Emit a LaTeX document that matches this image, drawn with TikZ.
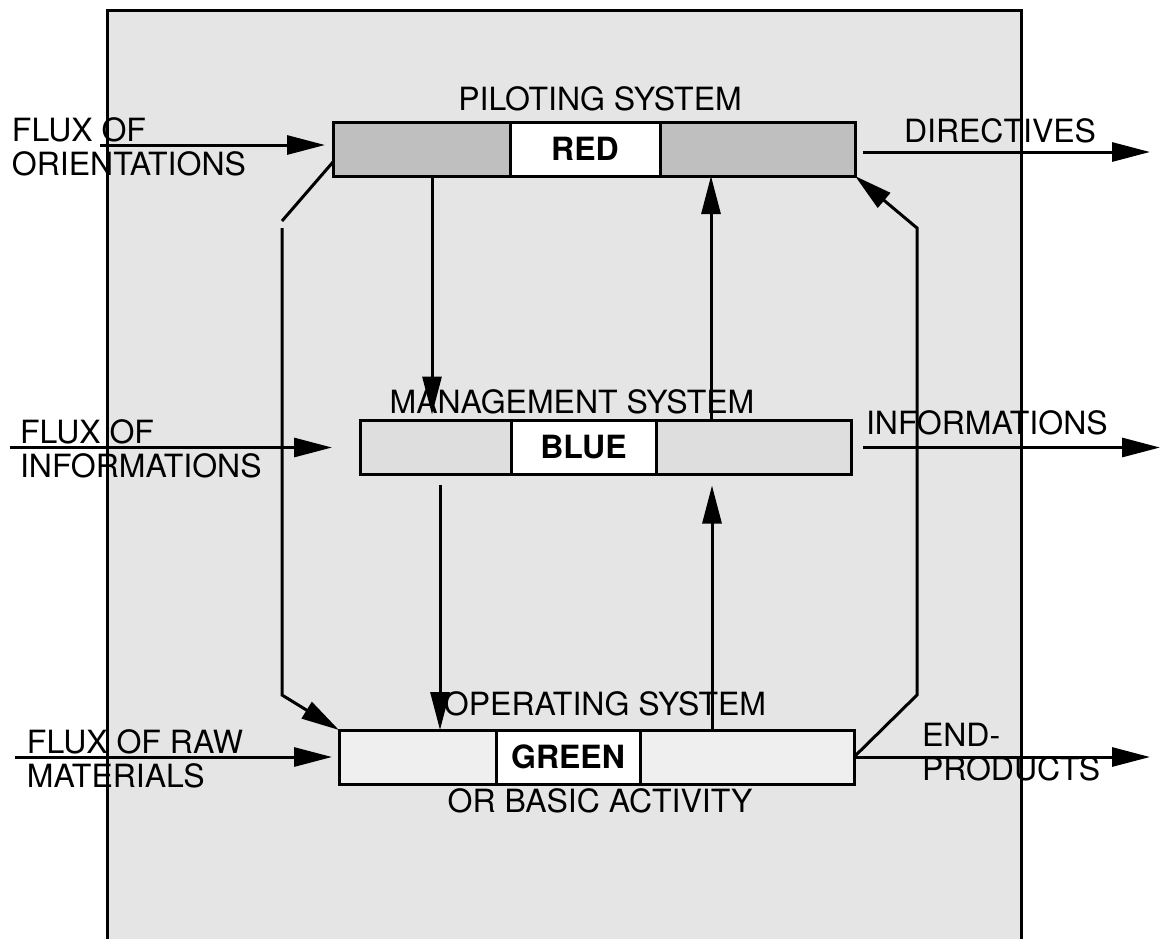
\documentclass[tikz,border=0pt]{standalone}
\usepackage{fontspec}
\setmainfont{TeX Gyre Heros}
\usetikzlibrary{arrows.meta}
\definecolor{backgray}{HTML}{E5E5E5}
\definecolor{pilotgray}{HTML}{BFBFBF}
\definecolor{mangray}{HTML}{DEDEDE}
\definecolor{opgray}{HTML}{EFEFEF}
\begin{document}
\begin{tikzpicture}[
    x=1pt, y=-1pt,
    every node/.style={font=\fontsize{32}{34}\selectfont, inner sep=0pt, outer sep=0pt},
    seg/.style={rectangle, draw, line width=3pt, minimum height=54pt},
    colour/.style={seg, fill=white, font=\fontsize{32}{34}\selectfont\bfseries},
    label/.style={align=left, anchor=base west},
    title/.style={anchor=base},
    flow/.style={line width=3pt, -{Triangle[length=38pt,width=19pt]}}
]
    \useasboundingbox (0,0) rectangle (1162,938);
    \fill[backgray] (107,10) rectangle (1021,950);
    \draw[line width=3pt] (107,950) -- (107,10) -- (1021,10) -- (1021,950);

    \node[seg, fill=pilotgray, minimum width=177pt] (pilotL) at (421.5,149) {};
    \node[colour, minimum width=150pt] (red) at (585,149) {RED};
    \node[seg, fill=pilotgray, minimum width=195pt] (pilotR) at (757.5,149) {};
    \node[seg, fill=mangray, minimum width=151pt] (manL) at (435.5,447.5) {};
    \node[colour, minimum width=145pt] (blue) at (583.5,447.5) {BLUE};
    \node[seg, fill=mangray, minimum width=195pt] (manR) at (753.5,447.5) {};
    \node[seg, fill=opgray, minimum width=157pt] (opL) at (417.5,757) {};
    \node[colour, minimum width=144pt] (green) at (568,757) {GREEN};
    \node[seg, fill=opgray, minimum width=214pt] (opR) at (747,757) {};

    \node[title] (pilottitle) at (600,110) {PILOTING SYSTEM};
    \node[title] (mantitle) at (572,413) {MANAGEMENT SYSTEM};
    \node[title] (optitle) at (605,715) {OPERATING SYSTEM};
    \node[title] (opsub) at (600,812) {OR BASIC ACTIVITY};

    \node[label] (orientlabel) at (12,175) {FLUX OF\\ORIENTATIONS};
    \node[label] (infoinlabel) at (20,477) {FLUX OF\\INFORMATIONS};
    \node[label] (rawlabel) at (27,787) {FLUX OF RAW\\MATERIALS};
    \node[label] (dirlabel) at (904,142) {DIRECTIVES};
    \node[label] (infooutlabel) at (866,434) {INFORMATIONS};
    \node[label] (endlabel) at (922,780) {END-\\PRODUCTS};

    \coordinate (orientin) at (100,145);
    \coordinate (infoin) at (10,447.5);
    \coordinate (rawin) at (15,757);
    \coordinate (dirout) at (1150,152);
    \coordinate (infoout) at (1160,447.5);
    \coordinate (endout) at (1150,757);
    \coordinate (lefttop) at (282,221);
    \coordinate (leftmid) at (282,228);
    \coordinate (leftlow) at (282,695);
    \coordinate (rightlow) at (917,695);
    \coordinate (righttop) at (917,228);

    \draw[flow] (orientin) -- ([xshift=-8pt, yshift=4pt]pilotL.west);
    \draw[flow] (infoin) -- ([xshift=-28pt]manL.west);
    \draw[flow] (rawin) -- ([xshift=-7pt]opL.west);
    \draw[flow] ([xshift=8pt, yshift=-3pt]pilotR.east) -- (dirout);
    \draw[flow] ([xshift=12pt]manR.east) -- (infoout);
    \draw[flow] (opR.east) -- (endout);

    \draw[line width=3pt] ([yshift=-13pt]pilotL.west) -- (lefttop);
    \draw[flow] (leftmid) -- (leftlow) -- (opL.north west);
    \draw[flow] (opR.east) -- (rightlow) -- (righttop) -- (pilotR.south east);

    \draw[flow] ([xshift=10.5pt]pilotL.south) -- ([xshift=-3.5pt, yshift=6pt]manL.north);
    \draw[flow] ([xshift=-42.5pt]manR.north) -- ([xshift=-46.5pt]pilotR.south);
    \draw[flow] ([xshift=4.5pt, yshift=-10pt]manL.south) -- ([xshift=22.5pt]opL.north);
    \draw[flow] ([xshift=-35pt]opR.north) -- ([xshift=-41.5pt, yshift=-11pt]manR.south);
\end{tikzpicture}
\end{document}
